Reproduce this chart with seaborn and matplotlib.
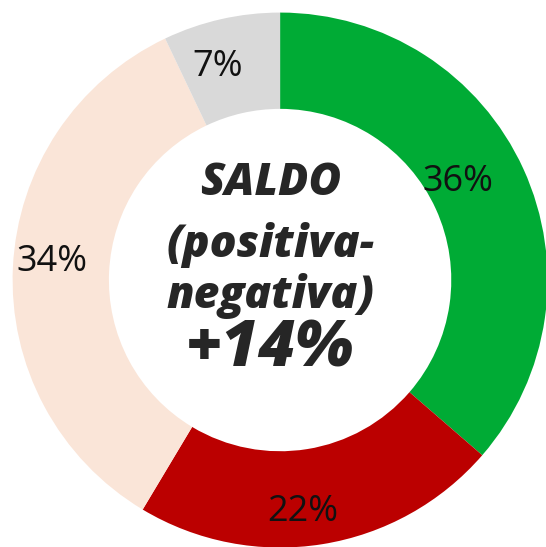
import matplotlib
matplotlib.use("Agg")
import matplotlib.pyplot as plt
import numpy as np
import seaborn as sns

# data (clockwise from 12 o'clock)
categories = ["positiva", "negativa", "neutrale", "non sa"]
shares = [36, 22, 34, 7]
colors = ["#00AB35", "#BB0000", "#FAE5D8", "#D9D9D9"]
label_dist = [0.76, 0.87, 0.855, 0.83]
label_turn = [4.3, -3.4, -1.8, 3.6]  # small angular nudges, degrees
center_lines = ["SALDO", "(positiva-", "negativa)", "+14%"]

sns.set_theme(style="white")
plt.rcParams["font.family"] = ["Open Sans", "DejaVu Sans"]

fig = plt.figure(figsize=(5.46, 5.47), dpi=100)
ax = fig.add_axes([0, 0, 1, 1])

wedges, texts = ax.pie(
    shares,
    colors=colors,
    startangle=90,
    counterclock=False,
    radius=1.0,
    wedgeprops=dict(width=0.36, edgecolor="none"),
)

# percentage labels inside the ring
for w, v, d, t in zip(wedges, shares, label_dist, label_turn):
    ang = np.deg2rad((w.theta1 + w.theta2) / 2 + t)
    ax.text(d * np.cos(ang), d * np.sin(ang), f"{v}%", ha="center", va="center",
            fontsize=26, color="#111111")

# centre text
cx = -0.037
ax.text(cx, 0.318, center_lines[0], ha="center", va="baseline",
        fontsize=32, fontweight=800, style="italic")
ax.text(cx, 0.086, center_lines[1], ha="center", va="baseline",
        fontsize=32, fontweight=800, style="italic")
ax.text(cx, -0.105, center_lines[2], ha="center", va="baseline",
        fontsize=32, fontweight=800, style="italic")
ax.text(cx, -0.325, center_lines[3], ha="center", va="baseline",
        fontsize=46, fontweight=800, style="italic")

ax.set_xlim(-1.047, 0.994)
ax.set_ylim(-0.998, 1.047)
ax.set_aspect("equal")
ax.axis("off")

fig.savefig("out.png", dpi=100, facecolor="white")
plt.close(fig)
